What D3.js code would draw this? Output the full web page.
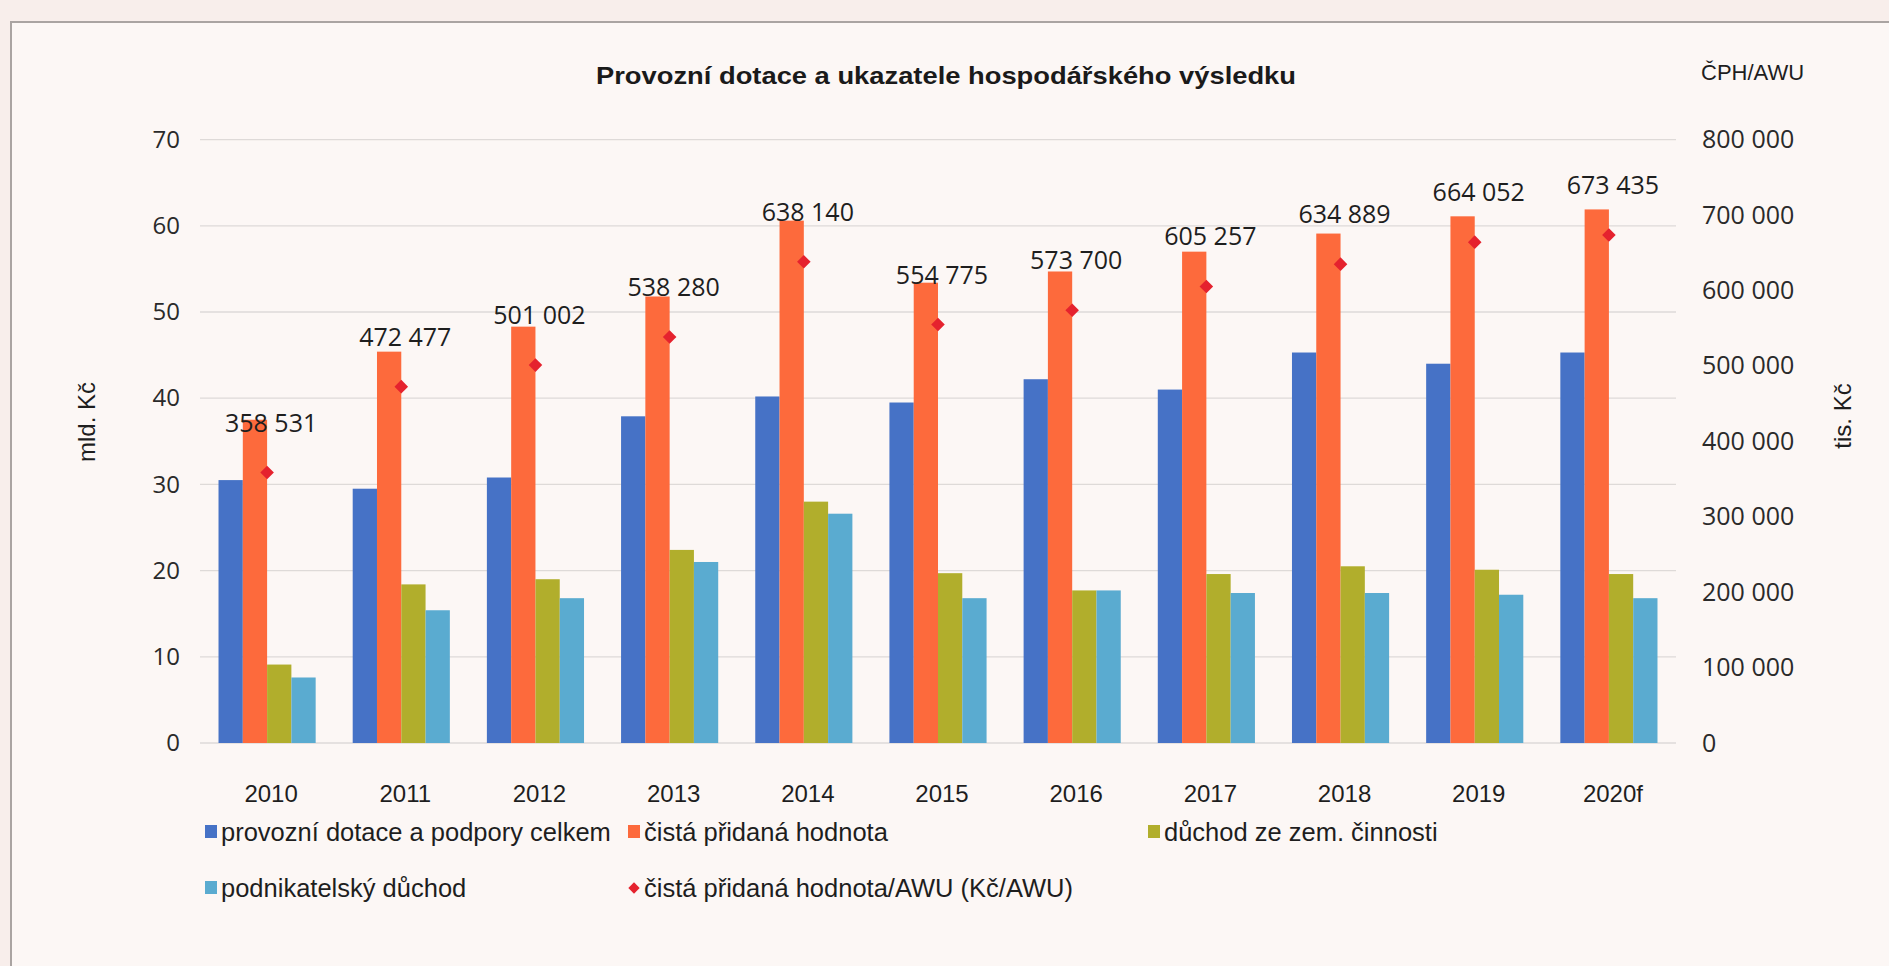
<!DOCTYPE html>
<html>
<head>
<meta charset="utf-8">
<script src="https://cdn.jsdelivr.net/npm/d3@7"></script>
<style>
  html, body { margin: 0; padding: 0; background: #f8eeeb; }
  svg { display: block; }
</style>
</head>
<body>
<svg id="chart" width="1889" height="966"></svg>
<script>
// hodnoty
const years = ["2010", "2011", "2012", "2013", "2014", "2015", "2016", "2017", "2018", "2019", "2020f"];
const dotace = [30.5, 29.5, 30.8, 37.9, 40.2, 39.5, 42.2, 41.0, 45.3, 44.0, 45.3];
const cph = [37.5, 45.4, 48.3, 51.8, 60.6, 53.4, 54.7, 57.0, 59.1, 61.1, 61.9];
const duchodZem = [9.1, 18.4, 19.0, 22.4, 28.0, 19.7, 17.7, 19.6, 20.5, 20.1, 19.6];
const podnikDuchod = [7.6, 15.4, 16.8, 21.0, 26.6, 16.8, 17.7, 17.4, 17.4, 17.2, 16.8];
const cphAwu = [358531, 472477, 501002, 538280, 638140, 554775, 573700, 605257, 634889, 664052, 673435];

const leftTicks = [0, 10, 20, 30, 40, 50, 60, 70];
const rightTicks = [0, 100000, 200000, 300000, 400000, 500000, 600000, 700000, 800000];

const seriesNames = [
  "provozní dotace a podpory celkem",
  "čistá přidaná hodnota",
  "důchod ze zem. činnosti",
  "podnikatelský důchod"
];
const seriesValues = [dotace, cph, duchodZem, podnikDuchod];
const colors = ["#4672c6", "#fd6a3c", "#b1ae2c", "#5aabd0"];
const markerColor = "#e5222e";

const czFormat = d3.formatLocale({ decimal: ",", thousands: " ", grouping: [3], currency: ["", ""] }).format(",d");

const svg = d3.select("#chart");
const width = 1889, height = 966;
const narrow = "'Liberation Sans', Arial, sans-serif";

// rámeček (naskenovaná stránka)
svg.append("rect")
  .attr("x", 11).attr("y", 22)
  .attr("width", width).attr("height", height)
  .attr("fill", "#fcf7f5")
  .attr("stroke", "#aaa4a2")
  .attr("stroke-width", 2);

const x0 = d3.scaleBand()
  .domain(years)
  .range([200, 1676])
  .paddingInner(0.276)
  .paddingOuter(0.138);

const x1 = d3.scaleBand()
  .domain(d3.range(seriesNames.length))
  .range([0, x0.bandwidth()]);

const yL = d3.scaleLinear().domain([0, 70]).range([743, 139.6]);
const yR = d3.scaleLinear().domain([0, 800000]).range([743, 139.6]);

// mřížka
svg.append("g")
  .selectAll("line")
  .data(leftTicks)
  .join("line")
  .attr("x1", 200).attr("x2", 1676)
  .attr("y1", d => yL(d)).attr("y2", d => yL(d))
  .attr("stroke", "#dedad8")
  .attr("stroke-width", 1.3);

// sloupce
const rows = years.map((y, i) => ({ year: y, values: seriesValues.map(s => s[i]), awu: cphAwu[i] }));

const groups = svg.append("g")
  .selectAll("g")
  .data(rows)
  .join("g")
  .attr("transform", d => `translate(${x0(d.year)},0)`);

groups.selectAll("rect")
  .data(d => d.values.map((v, k) => ({ k, v })))
  .join("rect")
  .attr("x", d => x1(d.k))
  .attr("y", d => yL(d.v))
  .attr("width", x1.bandwidth())
  .attr("height", d => yL(0) - yL(d.v))
  .attr("fill", d => colors[d.k]);

// ČPH/AWU body a popisky
const symbol = d3.symbol(d3.symbolSquare, 92);

svg.append("g")
  .selectAll("path")
  .data(rows)
  .join("path")
  .attr("d", symbol)
  .attr("transform", d => `translate(${x0(d.year) + x0.bandwidth() / 2},${yR(d.awu)}) rotate(45)`)
  .attr("fill", markerColor);

svg.append("g")
  .selectAll("text")
  .data(rows)
  .join("text")
  .attr("x", d => x0(d.year) + x0.bandwidth() / 2 + 4)
  .attr("y", d => yR(d.awu) - 50)
  .attr("dy", "0.36em")
  .attr("text-anchor", "middle")
  .style("font-family", "'Open Sans', sans-serif")
  .style("font-size", "25px")
  .attr("fill", "#1e1e1e")
  .text(d => czFormat(d.awu));

// osy
const axisFont = g => g.selectAll("text")
  .style("font-family", "'Open Sans', sans-serif")
  .style("font-size", "24px")
  .attr("fill", "#2a2a2a");

svg.append("g")
  .attr("transform", "translate(188,0)")
  .call(d3.axisLeft(yL).tickValues(leftTicks).tickSize(0).tickPadding(8))
  .call(g => g.select(".domain").remove())
  .call(axisFont);

svg.append("g")
  .attr("transform", "translate(1694,0)")
  .call(d3.axisRight(yR).tickValues(rightTicks).tickSize(0).tickPadding(8).tickFormat(czFormat))
  .call(g => g.select(".domain").remove())
  .call(g => g.selectAll("text")
    .style("font-family", "'Open Sans', sans-serif")
    .style("font-size", "25px")
    .attr("fill", "#2a2a2a"));

svg.append("g")
  .attr("transform", "translate(4,743)")
  .call(d3.axisBottom(x0).tickSize(0).tickPadding(42))
  .call(g => g.select(".domain").remove())
  .call(g => g.selectAll("text")
    .style("font-family", narrow)
    .style("font-size", "24px")
    .attr("fill", "#1e1e1e"));

// titulek a popisky os
svg.append("text")
  .attr("x", 946).attr("y", 84)
  .attr("text-anchor", "middle")
  .attr("textLength", 700)
  .attr("lengthAdjust", "spacingAndGlyphs")
  .style("font-family", narrow)
  .style("font-weight", "bold")
  .style("font-size", "24px")
  .attr("fill", "#1a1a1a")
  .text("Provozní dotace a ukazatele hospodářského výsledku");

svg.append("text")
  .attr("x", 1701).attr("y", 80)
  .style("font-family", narrow)
  .style("font-size", "22px")
  .attr("fill", "#1e1e1e")
  .text("ČPH/AWU");

svg.append("text")
  .attr("transform", "translate(95,422) rotate(-90)")
  .attr("text-anchor", "middle")
  .style("font-family", narrow)
  .style("font-size", "24px")
  .attr("fill", "#1e1e1e")
  .text("mld. Kč");

svg.append("text")
  .attr("transform", "translate(1851,416) rotate(-90)")
  .attr("text-anchor", "middle")
  .style("font-family", narrow)
  .style("font-size", "24px")
  .attr("fill", "#1e1e1e")
  .text("tis. Kč");

// legenda
const legendItems = [
  { name: seriesNames[0], color: colors[0], type: "rect", x: 205, y: 832 },
  { name: seriesNames[1], color: colors[1], type: "rect", x: 628, y: 832 },
  { name: seriesNames[2], color: colors[2], type: "rect", x: 1148, y: 832 },
  { name: seriesNames[3], color: colors[3], type: "rect", x: 205, y: 888 },
  { name: "čistá přidaná hodnota/AWU (Kč/AWU)", color: markerColor, type: "diamond", x: 628, y: 888 }
];

const legend = svg.append("g")
  .selectAll("g")
  .data(legendItems)
  .join("g")
  .attr("transform", d => `translate(${d.x},${d.y})`);

legend.filter(d => d.type === "rect")
  .append("rect")
  .attr("x", 0).attr("y", -7)
  .attr("width", 12).attr("height", 13)
  .attr("fill", d => d.color);

legend.filter(d => d.type === "diamond")
  .append("path")
  .attr("d", d3.symbol(d3.symbolSquare, 64))
  .attr("transform", "translate(6,0) rotate(45)")
  .attr("fill", d => d.color);

legend.append("text")
  .attr("x", 16)
  .attr("dy", "0.35em")
  .style("font-family", narrow)
  .style("font-size", "25.5px")
  .attr("fill", "#1e1e1e")
  .text(d => d.name);
</script>
</body>
</html>
